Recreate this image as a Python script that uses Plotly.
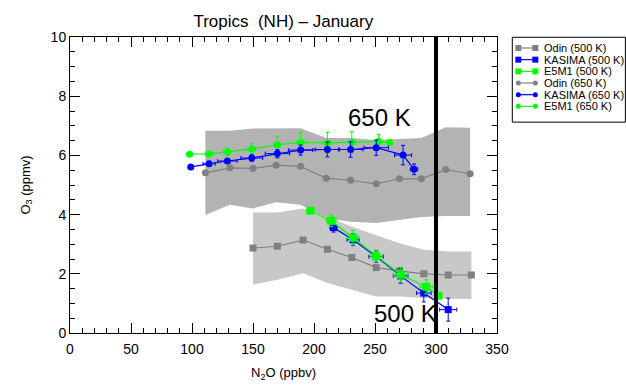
import plotly.graph_objects as go

# ---------------- data ----------------
# Odin 650 K (mean + shaded range)
odin650_x = [111, 131, 150, 169, 189, 210, 230, 251, 270, 288, 308, 328]
odin650_y = [5.41, 5.58, 5.56, 5.67, 5.63, 5.23, 5.16, 5.04, 5.21, 5.21, 5.52, 5.38]
odin650_hi = [6.83, 6.83, 6.91, 6.92, 6.92, 6.59, 6.59, 6.52, 6.55, 6.59, 6.95, 6.93]
odin650_lo = [3.99, 4.33, 4.21, 4.42, 4.33, 3.88, 3.76, 3.72, 3.82, 3.92, 3.95, 3.95]

# Odin 500 K (mean + shaded range)
odin500_x = [150, 170, 191, 211, 231, 251, 270, 290, 310, 329]
odin500_y = [2.87, 2.93, 3.14, 2.83, 2.55, 2.21, 2.10, 2.00, 1.96, 1.96]
odin500_hi = [4.07, 4.07, 4.21, 3.93, 3.59, 3.31, 3.03, 2.81, 2.75, 2.75]
odin500_lo = [1.63, 1.80, 2.02, 1.69, 1.46, 1.23, 1.23, 1.18, 1.16, 1.15]

# KASIMA 650 K
kas650_x = [99, 114, 129, 149, 170, 189, 211, 230, 251, 273, 282]
kas650_y = [5.61, 5.72, 5.81, 5.91, 6.06, 6.18, 6.20, 6.20, 6.26, 6.01, 5.53]
kas650_yerr = [0.03, 0.06, 0.08, 0.11, 0.14, 0.17, 0.25, 0.26, 0.26, 0.33, 0.18]
kas650_xerr = [2, 5, 8, 9, 10, 10, 10, 10, 10, 7, 3]

# E5M1 650 K
e5m1650_x = [98, 114, 129, 149, 170, 189, 211, 231, 253, 262]
e5m1650_y = [6.04, 6.05, 6.12, 6.22, 6.36, 6.44, 6.42, 6.44, 6.47, 6.44]
e5m1650_yerr = [0.04, 0.07, 0.13, 0.17, 0.29, 0.34, 0.36, 0.36, 0.24, 0.08]
e5m1650_xerr = [2, 3, 3, 3, 3, 3, 3, 3, 3, 2]

# KASIMA 500 K
kas500_x = [216, 232, 251, 271, 290, 310]
kas500_y = [3.56, 3.15, 2.58, 1.93, 1.35, 0.79]
kas500_yerr = [0.15, 0.2, 0.2, 0.25, 0.3, 0.39]
kas500_xerr = [3, 5, 6, 6, 6, 7]

# E5M1 500 K
e5m1500_x = [197, 214, 232, 251, 271, 292, 302]
e5m1500_y = [4.13, 3.79, 3.22, 2.60, 1.97, 1.56, 1.26]
e5m1500_yerr = [0.1, 0.2, 0.25, 0.2, 0.25, 0.24, 0.08]
e5m1500_xerr = [3, 4, 5, 5, 6, 5, 2]

n2o_ref = 300  # vertical reference line (ppbv)

legend_names = ["Odin (500 K)", "KASIMA (500 K)", "E5M1 (500 K)",
                "Odin (650 K)", "KASIMA (650 K)", "E5M1 (650 K)"]
legend_colors = ["#808080", "#0000ff", "#00ff00", "#808080", "#0000ff", "#00ff00"]
legend_shapes = ["rect", "rect", "rect", "circle", "circle", "circle"]

GRAY = "#808080"
BLUE = "#0000ff"
GREEN = "#00ff00"
FONT = "Liberation Sans, Arial, sans-serif"

fig = go.Figure()

# shaded ranges
fig.add_trace(go.Scatter(
    x=odin650_x + odin650_x[::-1], y=odin650_hi + odin650_lo[::-1],
    fill="toself", fillcolor="#b3b3b3", line=dict(width=0), mode="lines",
    hoverinfo="skip", showlegend=False))
fig.add_trace(go.Scatter(
    x=odin500_x + odin500_x[::-1], y=odin500_hi + odin500_lo[::-1],
    fill="toself", fillcolor="#c8c8c8", line=dict(width=0), mode="lines",
    hoverinfo="skip", showlegend=False))

# Odin means
fig.add_trace(go.Scatter(x=odin500_x, y=odin500_y, mode="lines+markers",
                         line=dict(color=GRAY, width=1.2),
                         marker=dict(symbol="square", size=7, color=GRAY),
                         name="Odin (500 K)", showlegend=False))
fig.add_trace(go.Scatter(x=odin650_x, y=odin650_y, mode="lines+markers",
                         line=dict(color=GRAY, width=1.2),
                         marker=dict(symbol="circle", size=7, color=GRAY),
                         name="Odin (650 K)", showlegend=False))


def model_trace(x, y, xe, ye, color, symbol, size, name):
    return go.Scatter(
        x=x, y=y, mode="lines+markers",
        line=dict(color=color, width=1.2),
        marker=dict(symbol=symbol, size=size, color=color),
        error_x=dict(type="data", array=xe, color=color, thickness=1, width=2),
        error_y=dict(type="data", array=ye, color=color, thickness=1, width=2),
        name=name, showlegend=False)


fig.add_trace(model_trace(e5m1650_x, e5m1650_y, e5m1650_xerr, e5m1650_yerr,
                          GREEN, "circle", 7, "E5M1 (650 K)"))
fig.add_trace(model_trace(kas650_x, kas650_y, kas650_xerr, kas650_yerr,
                          BLUE, "circle", 7, "KASIMA (650 K)"))
fig.add_trace(model_trace(kas500_x, kas500_y, kas500_xerr, kas500_yerr,
                          BLUE, "square", 7, "KASIMA (500 K)"))
fig.add_trace(model_trace(e5m1500_x, e5m1500_y, e5m1500_xerr, e5m1500_yerr,
                          GREEN, "square", 8, "E5M1 (500 K)"))

# vertical reference line
fig.add_shape(type="line", xref="x", yref="paper", x0=n2o_ref, x1=n2o_ref,
              y0=0, y1=1, line=dict(color="black", width=4))

# ---- custom legend (paper coords) ----
PLOT_L, PLOT_R, PLOT_T, PLOT_B = 70, 496.7, 36.7, 333.3


def px2paper_x(px):
    return (px - PLOT_L) / (PLOT_R - PLOT_L)


def px2paper_y(py):
    return (PLOT_B - py) / (PLOT_B - PLOT_T)


fig.add_shape(type="rect", xref="paper", yref="paper",
              x0=px2paper_x(512), x1=px2paper_x(625),
              y0=px2paper_y(122), y1=px2paper_y(37),
              line=dict(color="black", width=1), fillcolor="white", layer="above")
for i, (nm, col, shp) in enumerate(zip(legend_names, legend_colors, legend_shapes)):
    yy = px2paper_y(47.7 + i * 11.7)
    xa, xb = px2paper_x(518), px2paper_x(535)
    fig.add_shape(type="line", xref="paper", yref="paper", x0=xa, x1=xb,
                  y0=yy, y1=yy, line=dict(color=col, width=1.2))
    half = 3 if shp == "rect" else 2.5
    for xc in (xa, xb):
        fig.add_shape(type=shp, xref="paper", yref="paper",
                      xsizemode="pixel", ysizemode="pixel",
                      xanchor=xc, yanchor=yy,
                      x0=-half, x1=half, y0=-half, y1=half,
                      line=dict(color=col, width=0), fillcolor=col)
    fig.add_annotation(xref="paper", yref="paper", x=px2paper_x(542), y=yy,
                       text=nm, showarrow=False, xanchor="left", yanchor="middle",
                       font=dict(family=FONT, size=11, color="black"))

# level labels
fig.add_annotation(x=254, y=7.28, text="650 K", showarrow=False,
                   font=dict(family=FONT, size=24, color="black"))
fig.add_annotation(x=275, y=0.67, text="500 K", showarrow=False,
                   font=dict(family=FONT, size=24, color="black"))

axis_common = dict(showline=True, linecolor="black", linewidth=1, mirror="allticks",
                   ticks="inside", tickcolor="black", tickwidth=1, ticklen=10,
                   showgrid=False, zeroline=False,
                   tickfont=dict(family=FONT, size=14, color="black"))

fig.update_xaxes(range=[0, 350], dtick=50, tick0=0, ticklabelstandoff=3,
                 minor=dict(ticks="inside", ticklen=5, dtick=10, tickcolor="black",
                            showgrid=False),
                 title=dict(text="N<sub>2</sub>O (ppbv)", standoff=12,
                            font=dict(family=FONT, size=13, color="black")),
                 **axis_common)
fig.update_yaxes(range=[0, 10], dtick=2, tick0=0,
                 minor=dict(ticks="inside", ticklen=5, dtick=0.5, tickcolor="black",
                            showgrid=False),
                 title=dict(text="O<sub>3</sub> (ppmv)", standoff=17,
                            font=dict(family=FONT, size=13, color="black")),
                 **axis_common)

fig.update_layout(
    width=626, height=387,
    margin=dict(l=70, r=626 - 496.7, t=36.7, b=387 - 333.3, autoexpand=False),
    paper_bgcolor="white", plot_bgcolor="white",
    title=dict(text="Tropics  (NH) \u2013 January", x=283.3 / 626, xanchor="center",
               y=1 - 21 / 387, yanchor="middle",
               font=dict(family=FONT, size=17, color="black")),
    font=dict(family=FONT, color="black"),
    showlegend=False,
)

fig.write_html("out.html")
